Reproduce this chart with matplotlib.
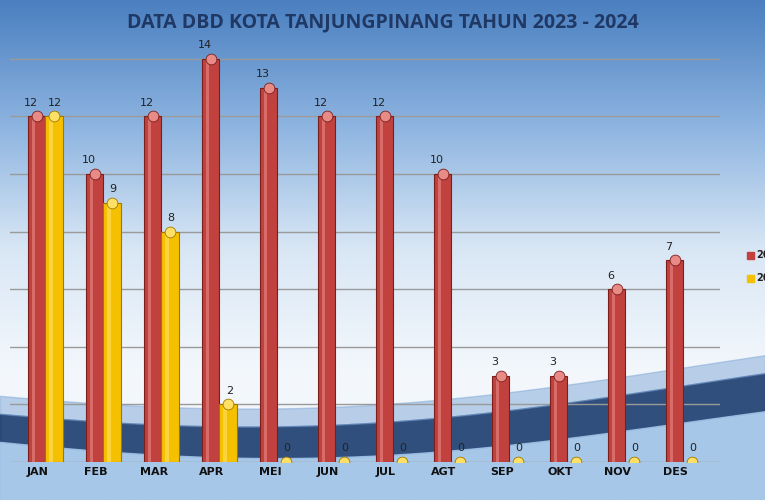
import numpy as np
import matplotlib
matplotlib.use("Agg")
import matplotlib.pyplot as plt
from matplotlib.colors import LinearSegmentedColormap

months = ["JAN","FEB","MAR","APR","MEI","JUN","JUL","AGT","SEP","OKT","NOV","DES"]
series_2023 = [12,10,12,14,13,12,12,10,3,3,6,7]
series_2024 = [12,9,8,2,0,0,0,0,0,0,0,0]
legend_labels = ["20","20"]

W, H = 765, 500
fig = plt.figure(figsize=(W/100, H/100), dpi=100)

bg = fig.add_axes([0,0,1,1]); bg.set_axis_off()
bg.set_xlim(0, W); bg.set_ylim(H, 0)
cmap = LinearSegmentedColormap.from_list("bg", ["#4a7fc0","#8db4e0","#d9e7f5","#f4f8fc","#eef4fa"])
grad = np.linspace(0,1,256).reshape(-1,1)
bg.imshow(grad, extent=[0,W,H,0], cmap=cmap, aspect="auto")
xs = np.linspace(0, W, 300)
top = 405 + 30*np.sin((xs/W)*np.pi*1.0+0.3) - 0.03*xs
bot = top + 28 + 10*(xs/W)
bg.fill_between(xs, top, bot, color="#1c3d6e", alpha=0.9)
bg.fill_between(xs, bot, H, color="#9fc2e6", alpha=0.9)
bg.fill_between(xs, top-18, top, color="#7ea6d6", alpha=0.5)

fig.text(383/W, 1-22/H, "DATA DBD KOTA TANJUNGPINANG TAHUN 2023 - 2024",
         ha="center", va="center", fontsize=14, fontweight="bold",
         color="#1f3864", family="Open Sans")

ax = fig.add_axes([10/W, (H-462)/H, 710/W, (462-53)/H])
ax.patch.set_alpha(0)
for s in ax.spines.values(): s.set_visible(False)
ax.set_ylim(0, 14.2)
ax.set_xlim(-0.48, -0.48 + 710/58)
ax.set_yticks([]); ax.tick_params(length=0)
for g in range(0, 15, 2):
    ax.axhline(g, color="#9a9a9a", lw=1, zorder=0)
x = np.arange(len(months))
bw = 0.3
def cyl(xc, vals, base, light, dark):
    ax.bar(xc, vals, bw, color=base, edgecolor=dark, lw=0.8, zorder=3)
    ax.bar(xc - bw*0.18, vals, bw*0.22, color=light, alpha=0.6, lw=0, zorder=4)
    ax.scatter(xc, np.array(vals), s=60, marker="o", color=light,
               edgecolor=dark, lw=0.6, zorder=5)
cyl(x-0.02, series_2023, "#c0413d", "#e88a86", "#7a1f1c")
cyl(x+0.28, series_2024, "#f5c000", "#ffe066", "#a07a00")
for i in x:
    ax.text(i-0.12, series_2023[i]+0.3, str(series_2023[i]), ha="center", va="bottom", fontsize=8, color="#222")
    ax.text(i+0.3, series_2024[i]+0.3, str(series_2024[i]), ha="center", va="bottom", fontsize=8, color="#222")
ax.set_xticks(x)
ax.set_xticklabels(months, fontsize=8, fontweight="bold", color="#111")

for yy, col, lab in [(255,"#c0413d",legend_labels[0]),(278,"#f5c000",legend_labels[1])]:
    fig.patches.append(plt.Rectangle((747/W, 1-(yy+4)/H), 7/W, 7/H, transform=fig.transFigure, color=col))
    fig.text(756/W, 1-yy/H, lab, fontsize=7, fontweight="bold", va="center", color="#222")

fig.savefig("out.png", dpi=100)
